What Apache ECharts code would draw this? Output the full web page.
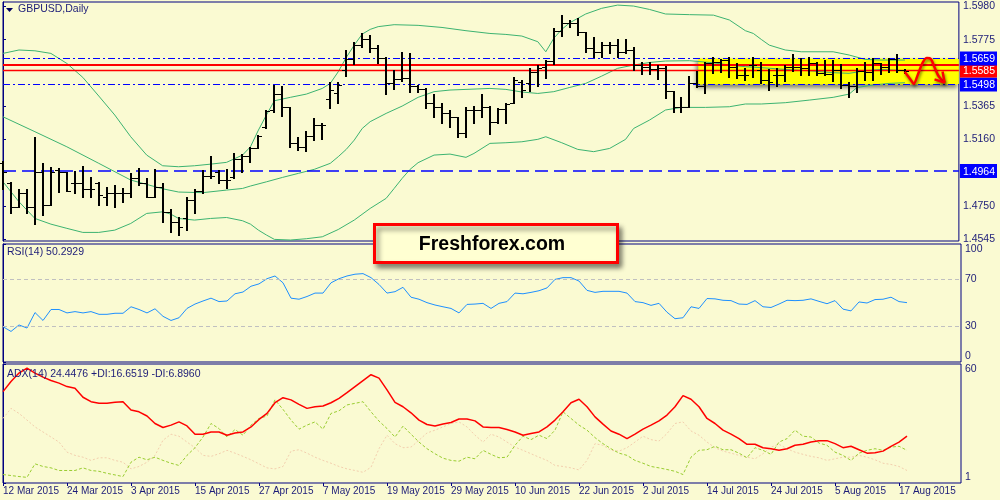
<!DOCTYPE html>
<html><head><meta charset="utf-8">
<script src="https://cdn.jsdelivr.net/npm/echarts@6/dist/echarts.min.js"></script>
<style>html,body{margin:0;padding:0;background:#FAFAD2;}#c{width:1000px;height:500px;}</style>
</head><body><div id="c"></div>
<script>
// ---- data ----
const tickLabels = ['12 Mar 2015','24 Mar 2015','3 Apr 2015','15 Apr 2015','27 Apr 2015','7 May 2015','19 May 2015','29 May 2015','10 Jun 2015','22 Jun 2015','2 Jul 2015','14 Jul 2015','24 Jul 2015','5 Aug 2015','17 Aug 2015'];
const open = [1.5012,1.4892,1.4744,1.4831,1.4744,1.4960,1.4755,1.4970,1.4960,1.4888,1.4888,1.4851,1.4892,1.4806,1.4826,1.4831,1.4831,1.4919,1.4888,1.4806,1.4864,1.4713,1.4652,1.4672,1.4785,1.4843,1.4935,1.4960,1.4909,1.4929,1.5036,1.5059,1.5104,1.5238,1.5341,1.5439,1.5357,1.5139,1.5114,1.5180,1.5246,1.5406,1.5443,1.5587,1.5653,1.5741,1.5776,1.5721,1.5659,1.5505,1.5530,1.5536,1.5489,1.5468,1.5382,1.5357,1.5324,1.5295,1.5201,1.5341,1.5341,1.5361,1.5269,1.5345,1.5382,1.5515,1.5505,1.5577,1.5608,1.5643,1.5830,1.5875,1.5875,1.5824,1.5721,1.5700,1.5741,1.5741,1.5700,1.5711,1.5618,1.5608,1.5591,1.5598,1.5460,1.5357,1.5361,1.5505,1.5489,1.5632,1.5639,1.5649,1.5608,1.5556,1.5618,1.5587,1.5526,1.5556,1.5556,1.5608,1.5604,1.5598,1.5632,1.5567,1.5563,1.5587,1.5495,1.5489,1.5583,1.5577,1.5628,1.5608,1.5653,1.5587];
const high = [1.5026,1.4898,1.4851,1.4851,1.5176,1.5012,1.4991,1.4981,1.4960,1.4964,1.4997,1.4929,1.4898,1.4868,1.4878,1.4857,1.4950,1.4981,1.4919,1.4975,1.4888,1.4728,1.4683,1.4802,1.4851,1.4970,1.5057,1.4970,1.4975,1.5077,1.5067,1.5114,1.5186,1.5341,1.5495,1.5489,1.5357,1.5172,1.5213,1.5289,1.5262,1.5515,1.5515,1.5711,1.5762,1.5813,1.5803,1.5741,1.5669,1.5587,1.5700,1.5690,1.5495,1.5474,1.5439,1.5386,1.5341,1.5299,1.5361,1.5365,1.5439,1.5365,1.5351,1.5386,1.5546,1.5526,1.5598,1.5618,1.5649,1.5844,1.5926,1.5896,1.5906,1.5824,1.5793,1.5762,1.5762,1.5776,1.5776,1.5727,1.5639,1.5639,1.5618,1.5612,1.5460,1.5419,1.5550,1.5583,1.5639,1.5665,1.5653,1.5665,1.5632,1.5598,1.5665,1.5639,1.5591,1.5598,1.5618,1.5686,1.5659,1.5665,1.5639,1.5649,1.5649,1.5624,1.5515,1.5598,1.5639,1.5659,1.5632,1.5659,1.5686,1.5591];
const low = [1.4851,1.4703,1.4740,1.4703,1.4637,1.4693,1.4755,1.4837,1.4843,1.4831,1.4806,1.4806,1.4755,1.4755,1.4744,1.4775,1.4806,1.4878,1.4806,1.4806,1.4652,1.4590,1.4570,1.4600,1.4703,1.4826,1.4919,1.4892,1.4857,1.4919,1.4960,1.5022,1.5104,1.5227,1.5330,1.5304,1.5114,1.5094,1.5090,1.5155,1.5160,1.5351,1.5386,1.5550,1.5624,1.5727,1.5700,1.5632,1.5439,1.5468,1.5519,1.5454,1.5454,1.5351,1.5299,1.5258,1.5234,1.5172,1.5176,1.5258,1.5299,1.5192,1.5258,1.5258,1.5382,1.5423,1.5460,1.5489,1.5536,1.5624,1.5797,1.5855,1.5803,1.5700,1.5669,1.5669,1.5690,1.5665,1.5690,1.5587,1.5563,1.5563,1.5530,1.5412,1.5330,1.5330,1.5361,1.5480,1.5447,1.5571,1.5577,1.5546,1.5536,1.5526,1.5542,1.5509,1.5464,1.5489,1.5521,1.5583,1.5556,1.5556,1.5556,1.5556,1.5521,1.5474,1.5419,1.5454,1.5526,1.5526,1.5563,1.5577,1.5577,1.5571];
const close = [1.4960,1.4744,1.4831,1.4744,1.4960,1.4755,1.4960,1.4960,1.4843,1.4888,1.4851,1.4851,1.4816,1.4826,1.4826,1.4831,1.4919,1.4888,1.4806,1.4864,1.4713,1.4652,1.4621,1.4785,1.4843,1.4935,1.4935,1.4909,1.4909,1.5036,1.5059,1.5104,1.5180,1.5336,1.5439,1.5357,1.5139,1.5114,1.5180,1.5246,1.5246,1.5464,1.5495,1.5653,1.5741,1.5776,1.5721,1.5659,1.5505,1.5530,1.5536,1.5489,1.5468,1.5382,1.5357,1.5324,1.5295,1.5201,1.5341,1.5341,1.5361,1.5269,1.5345,1.5378,1.5526,1.5464,1.5577,1.5598,1.5643,1.5830,1.5875,1.5875,1.5824,1.5721,1.5700,1.5741,1.5741,1.5700,1.5711,1.5618,1.5608,1.5591,1.5598,1.5460,1.5357,1.5357,1.5505,1.5489,1.5632,1.5639,1.5649,1.5608,1.5556,1.5556,1.5618,1.5526,1.5515,1.5556,1.5608,1.5604,1.5598,1.5632,1.5567,1.5563,1.5587,1.5495,1.5489,1.5583,1.5577,1.5628,1.5608,1.5653,1.5587,1.5581];
const bbUpper = [[0,1.5690],[2,1.5711],[4,1.5706],[6,1.5690],[8,1.5628],[10,1.5542],[12,1.5427],[14,1.5310],[16,1.5176],[18,1.5063],[20,1.4997],[22,1.4991],[24,1.4997],[26,1.5007],[28,1.5018],[30,1.5063],[31,1.5114],[32,1.5217],[33,1.5310],[34,1.5398],[36,1.5419],[38,1.5439],[40,1.5474],[41,1.5505],[42,1.5577],[43,1.5665],[44,1.5741],[45,1.5809],[46,1.5838],[47,1.5855],[49,1.5867],[52,1.5863],[55,1.5850],[58,1.5830],[61,1.5813],[63,1.5807],[65,1.5797],[67,1.5762],[68,1.5700],[69,1.5783],[70,1.5838],[71,1.5879],[73,1.5933],[75,1.5968],[77,1.5988],[79,1.5982],[81,1.5961],[83,1.5933],[86,1.5929],[89,1.5926],[91,1.5896],[93,1.5830],[94,1.5813],[95,1.5776],[96,1.5741],[98,1.5711],[100,1.5700],[104,1.5700],[106,1.5680],[108,1.5653],[110,1.5649],[113,1.5649]];
const bbMiddle = [[0,1.5299],[4,1.5207],[8,1.5114],[12,1.5012],[16,1.4909],[20,1.4855],[22,1.4835],[25,1.4831],[28,1.4847],[30,1.4857],[31,1.4872],[33,1.4898],[35,1.4925],[37,1.4950],[39,1.4975],[41,1.5012],[42,1.5053],[43,1.5098],[44,1.5155],[45,1.5227],[46,1.5269],[48,1.5320],[50,1.5365],[52,1.5419],[54,1.5454],[56,1.5464],[58,1.5468],[61,1.5474],[63,1.5468],[65,1.5452],[67,1.5443],[69,1.5454],[71,1.5480],[73,1.5505],[75,1.5550],[77,1.5598],[79,1.5618],[81,1.5634],[83,1.5643],[86,1.5645],[89,1.5632],[91,1.5618],[93,1.5608],[95,1.5602],[98,1.5591],[101,1.5583],[104,1.5571],[106,1.5567],[108,1.5583],[110,1.5591],[113,1.5583]];
const bbLower = [[0,1.4898],[2,1.4775],[4,1.4672],[6,1.4637],[8,1.4611],[10,1.4586],[12,1.4586],[14,1.4600],[16,1.4641],[18,1.4703],[20,1.4713],[21,1.4699],[22,1.4672],[24,1.4662],[26,1.4672],[28,1.4678],[30,1.4658],[31,1.4637],[32,1.4600],[33,1.4570],[34,1.4543],[36,1.4539],[38,1.4547],[40,1.4559],[42,1.4604],[44,1.4662],[46,1.4734],[48,1.4796],[49,1.4857],[50,1.4919],[51,1.4975],[52,1.5016],[54,1.5063],[56,1.5069],[58,1.5049],[59,1.5073],[61,1.5135],[63,1.5139],[65,1.5145],[67,1.5160],[68,1.5176],[70,1.5139],[72,1.5098],[74,1.5084],[76,1.5104],[78,1.5160],[79,1.5227],[81,1.5279],[83,1.5341],[85,1.5357],[88,1.5357],[91,1.5361],[93,1.5378],[95,1.5378],[98,1.5386],[101,1.5402],[104,1.5419],[106,1.5439],[107,1.5480],[109,1.5495],[111,1.5505],[113,1.5509]];
const rsi = [29.9,25.9,31.4,28.8,41.9,35.2,44.5,44.5,41.6,42.7,41.6,42.7,40.4,40.4,41.3,41.3,46.8,44.5,41.6,45.1,38.7,35.2,37.5,45.4,49.1,51.7,54.1,51.2,51.7,57.8,59.3,64.2,66.2,70.6,72.9,67.1,54.1,53.2,55.5,58.4,58.4,67.1,70.6,72.9,74.4,74.9,71.5,65.7,58.4,59.6,63.3,54.9,53.2,50.3,48.3,46.8,45.4,41.6,48.8,49.1,49.7,45.4,49.7,51.2,58.4,57.8,59.0,60.4,62.8,70.0,71.5,71.5,68.6,60.7,59.0,59.9,59.9,59.9,58.4,51.2,50.3,48.0,49.7,42.2,36.7,37.5,46.8,45.4,53.8,53.5,52.3,52.0,49.1,48.8,52.0,46.8,46.2,49.1,52.3,52.0,52.3,53.5,51.4,49.4,52.0,44.8,43.3,50.9,50.0,52.9,53.2,54.9,51.2,50.3];
const adx = [46.3,51.3,55.5,58.0,55.5,53.5,51.8,50.5,48.8,48.0,43.5,41.3,40.5,40.5,41.0,41.3,37.2,36.3,34.2,30.5,28.5,29.7,31.3,29.3,25.2,25.2,26.3,26.3,24.7,25.8,26.3,28.8,32.5,35.5,40.8,43.3,42.2,40.0,38.0,38.8,39.2,40.8,43.0,45.8,48.8,51.8,54.7,53.0,47.2,41.0,38.8,35.8,32.2,30.0,29.3,30.2,31.0,32.7,32.7,31.8,28.8,28.5,28.5,27.5,26.3,24.7,25.5,26.3,28.8,32.2,36.3,40.8,42.5,38.8,33.8,30.2,26.8,25.2,23.0,25.2,27.7,29.7,31.8,34.7,38.8,44.3,42.5,38.8,33.0,30.5,27.2,25.2,23.0,20.2,20.2,18.5,18.0,17.2,18.0,19.7,20.2,21.3,22.0,22.0,20.5,18.5,19.2,17.5,15.8,16.0,16.8,19.2,21.3,24.2];
const plusDI = [5.2,4.7,4.2,3.8,10.5,9.2,8.5,7.2,7.2,7.2,8.5,7.2,6.8,5.8,5.0,4.2,11.3,13.8,12.5,13.8,12.2,10.8,9.7,14.7,18.5,23.8,30.5,28.0,23.8,27.5,24.7,29.7,33.0,34.2,42.2,37.5,32.2,27.7,29.7,31.3,27.7,35.5,36.8,39.7,40.5,41.3,36.3,31.7,28.0,23.8,29.2,25.2,21.3,18.0,15.5,13.3,12.2,11.8,13.8,13.0,17.2,15.2,13.5,13.8,19.7,24.2,22.5,24.7,23.0,27.2,36.3,33.0,29.7,27.2,23.5,20.5,18.0,15.8,14.7,12.2,10.8,9.2,8.5,7.7,6.8,5.2,13.8,17.2,17.5,19.2,17.5,17.5,15.8,13.5,18.5,17.2,15.2,21.3,23.0,27.2,24.2,23.8,20.8,19.7,16.3,14.7,12.2,15.8,17.2,18.0,17.2,18.8,19.2,17.2];
const minusDI = [33.0,38.0,35.5,32.2,28.8,26.3,23.8,21.3,16.3,14.7,13.8,12.2,13.5,13.5,12.2,11.3,8.0,9.2,11.3,14.7,22.2,25.2,24.2,21.3,18.5,14.7,14.2,15.5,17.2,15.8,14.2,12.5,10.5,8.5,8.0,9.2,16.8,17.5,15.8,13.8,12.2,10.8,9.2,8.0,7.2,6.3,8.8,18.0,24.7,20.5,18.5,18.8,22.2,25.8,27.2,28.8,30.5,31.3,28.8,24.7,21.3,25.2,23.8,21.3,18.8,17.2,15.5,13.8,12.2,9.7,9.2,8.5,7.5,12.2,20.5,19.7,17.2,16.8,18.5,21.3,24.2,22.5,21.8,25.5,30.5,31.3,26.8,24.7,21.3,18.5,16.8,15.8,14.7,13.8,13.0,15.5,18.8,20.2,18.0,16.3,15.2,14.2,13.5,12.2,13.0,13.8,13.8,14.7,13.8,12.5,10.8,10.2,9.2,7.2];
const priceTicks = [1.4545,1.4750,1.5160,1.5365,1.5775,1.5980];
const resistLevel = 1.5659, supportLevel = 1.5498, pivotLevel = 1.5585, redLevel = 1.5621, lowLevel = 1.4964;
const zoneStart = 87.1;
const arrowPath = [[112.96,1.5577],[113.75,1.5525],[114.09,1.5501],[114.63,1.5562],[115.25,1.5636],[115.75,1.5661],[116.25,1.5655],[116.63,1.5612],[117.13,1.5556],[117.5,1.5532],[117.96,1.5510]];
const arrowHead = [[116.7,1.5530],[117.96,1.5510],[117.7,1.5578]];
const rsiLevels = [70,30];
const titleText = 'GBPUSD,Daily';
const rsiText = 'RSI(14) 50.2929';
const adxText = 'ADX(14) 24.4476 +DI:16.6519 -DI:6.8960';
const brandText = 'Freshforex.com';

// ---- chart ----
const NAVY = '#000080', TXT = '#1c1c78', BG = '#FAFAD2', FONT = 'Liberation Sans';
const XMAX = 119.75;
const boxedBlue = [resistLevel, supportLevel, lowLevel];
const boxedRed = [pivotLevel];
const allPriceTicks = priceTicks.concat(boxedBlue, boxedRed).sort((a,b)=>a-b);
const near = (a,b)=>Math.abs(a-b)<1e-6;

const ohlc = open.map((o,i)=>[i,o,close[i],low[i],high[i]]);
const idxPairs = arr => arr.map((v,i)=>[i,v]);

function renderBar(params, api){
  const i = api.value(0);
  const pO = api.coord([i, api.value(1)]);
  const pC = api.coord([i, api.value(2)]);
  const pL = api.coord([i, api.value(3)]);
  const pH = api.coord([i, api.value(4)]);
  const xc = Math.round(pH[0]);
  const r = v => Math.round(v) + 0.5;
  return {type:'group', children:[
    {type:'line', shape:{x1:xc,y1:Math.round(pH[1]),x2:xc,y2:Math.round(pL[1])+1}, style:{stroke:'#000', lineWidth:2}},
    {type:'line', shape:{x1:xc-4,y1:r(pO[1]),x2:xc,y2:r(pO[1])}, style:{stroke:'#000', lineWidth:1}},
    {type:'line', shape:{x1:xc,y1:r(pC[1]),x2:xc+4,y2:r(pC[1])}, style:{stroke:'#000', lineWidth:1}}
  ]};
}

const grids = [
  {left:3, right:39, top:2, height:239},
  {left:3, right:39, top:244, height:118},
  {left:3, right:39, top:364, height:119}
].map(g=>Object.assign(g,{show:true, borderColor:NAVY, borderWidth:1, backgroundColor:BG, containLabel:false}));

const xAxes = [0,1,2].map(gi=>({
  gridIndex:gi, type:'value', min:0, max:XMAX, show: gi===2,
  splitLine:{show:false}, axisLine:{show:false},
  axisTick:{show:true, length:3, customValues: tickLabels.map((_,k)=>k*8), lineStyle:{color:NAVY}},
  axisLabel:{show:true, customValues: tickLabels.map((_,k)=>k*8), align:'left', margin:3,
    color:TXT, fontFamily:FONT, fontSize:10,
    formatter: v => tickLabels[Math.round(v/8)] || ''}
}));

const yAxes = [
  {gridIndex:0, type:'value', position:'right', min:1.4533, max:1.6007,
   splitLine:{show:false}, axisLine:{show:true, lineStyle:{color:NAVY}},
   axisTick:{show:true, length:3, customValues: priceTicks, lineStyle:{color:NAVY}},
   axisLabel:{customValues: allPriceTicks, margin:1, fontFamily:FONT, fontSize:10, color:TXT,
     formatter: v => {
       const s = v.toFixed(4);
       if (boxedBlue.some(b=>near(b,v))) return '{b|'+s+'}';
       if (boxedRed.some(b=>near(b,v))) return '{r|'+s+'}';
       return '{n|'+s+'}';
     },
     rich:{
       b:{backgroundColor:'#0000FF', color:'#fff', padding:[2,2,1,3], fontFamily:FONT, fontSize:10.5},
       r:{backgroundColor:'#FF0000', color:'#fff', padding:[2,2,1,3], fontFamily:FONT, fontSize:10.5},
       n:{color:TXT, padding:[0,2,0,3], fontFamily:FONT, fontSize:10.5}
     }}},
  {gridIndex:1, type:'value', position:'right', min:0, max:100,
   splitLine:{show:false}, axisLine:{show:true, lineStyle:{color:NAVY}},
   axisTick:{show:true, length:3, customValues:[0,30,70,100], lineStyle:{color:NAVY}},
   axisLabel:{customValues:[0,30,70,100], margin:4, fontFamily:FONT, fontSize:10.5, color:TXT,
     verticalAlignMaxLabel:'top', verticalAlignMinLabel:'bottom'}},
  {gridIndex:2, type:'value', position:'right', min:1, max:60,
   splitLine:{show:false}, axisLine:{show:true, lineStyle:{color:NAVY}},
   axisTick:{show:true, length:3, customValues:[1,60], lineStyle:{color:NAVY}},
   axisLabel:{customValues:[1,60], margin:4, fontFamily:FONT, fontSize:10.5, color:TXT,
     verticalAlignMaxLabel:'top', verticalAlignMinLabel:'bottom'}}
];

const lineBase = {type:'line', showSymbol:false, symbol:'none', silent:true, animation:false};

const series = [
  Object.assign({}, lineBase, {name:'zone', xAxisIndex:0, yAxisIndex:0, data:[], z:1,
    markArea:{silent:true, precision:5, itemStyle:{color:'#FFFF00', shadowBlur:4, shadowColor:'rgba(0,0,0,0.45)', shadowOffsetX:-2, shadowOffsetY:3},
      data:[[{xAxis:zoneStart, yAxis:resistLevel},{xAxis:XMAX, yAxis:supportLevel}]]}}),
  Object.assign({}, lineBase, {name:'levels', xAxisIndex:0, yAxisIndex:0, data:[], z:2,
    markLine:{silent:true, precision:5, symbol:['none','none'], label:{show:false}, animation:false,
      data:[
        {yAxis:resistLevel, lineStyle:{color:'#0000FF', width:1, type:[7,3,2,3]}},
        {yAxis:supportLevel, lineStyle:{color:'#0000FF', width:1, type:[7,3,2,3]}},
        {yAxis:redLevel, lineStyle:{color:'#FF0000', width:2, type:'solid'}},
        {yAxis:pivotLevel, lineStyle:{color:'#FF0000', width:1.3, type:'solid'}},
        {yAxis:lowLevel, lineStyle:{color:'#0000FF', width:1.6, type:[13,6]}}
      ]}}),
  Object.assign({}, lineBase, {name:'BB up', xAxisIndex:0, yAxisIndex:0, data:bbUpper, z:3, lineStyle:{color:'#3CB371', width:1}}),
  Object.assign({}, lineBase, {name:'BB mid', xAxisIndex:0, yAxisIndex:0, data:bbMiddle, z:3, lineStyle:{color:'#3CB371', width:1}}),
  Object.assign({}, lineBase, {name:'BB low', xAxisIndex:0, yAxisIndex:0, data:bbLower, z:3, lineStyle:{color:'#3CB371', width:1}}),
  {type:'custom', name:'GBPUSD', xAxisIndex:0, yAxisIndex:0, data:ohlc, renderItem:renderBar, z:5,
   encode:{x:0, y:[1,2,3,4]}, silent:true, animation:false},
  Object.assign({}, lineBase, {name:'arrow', xAxisIndex:0, yAxisIndex:0, data:arrowPath, z:6, smooth:0.3,
    lineStyle:{color:'#FF0000', width:2.5, shadowBlur:3, shadowColor:'rgba(0,0,0,0.5)', shadowOffsetX:1, shadowOffsetY:2}}),
  Object.assign({}, lineBase, {name:'arrowhead', xAxisIndex:0, yAxisIndex:0, data:arrowHead, z:6,
    lineStyle:{color:'#FF0000', width:2.5, shadowBlur:3, shadowColor:'rgba(0,0,0,0.5)', shadowOffsetX:1, shadowOffsetY:2}}),
  Object.assign({}, lineBase, {name:'RSI', xAxisIndex:1, yAxisIndex:1, data:idxPairs(rsi), z:3,
    lineStyle:{color:'#1E90FF', width:1},
    markLine:{silent:true, precision:5, symbol:['none','none'], label:{show:false}, animation:false,
      lineStyle:{color:'#C0C0C0', width:1, type:[4,3]},
      data: rsiLevels.map(v=>({yAxis:v}))}}),
  Object.assign({}, lineBase, {name:'-DI', xAxisIndex:2, yAxisIndex:2, data:idxPairs(minusDI), z:2,
    lineStyle:{color:'#F3CFAE', width:1, type:[2,2]}}),
  Object.assign({}, lineBase, {name:'+DI', xAxisIndex:2, yAxisIndex:2, data:idxPairs(plusDI), z:3,
    lineStyle:{color:'#9ACD32', width:1, type:[3,2]}}),
  Object.assign({}, lineBase, {name:'ADX', xAxisIndex:2, yAxisIndex:2, data:idxPairs(adx), z:4,
    lineStyle:{color:'#FF0000', width:1.5}})
];

const graphic = [
  {type:'polygon', shape:{points:[[6,8],[13,8],[9.5,12]]}, style:{fill:'#000060'}, z:100},
  {type:'text', left:18, top:4, style:{text:titleText, fill:TXT, font:'10.5px "Liberation Sans"'}, z:100},
  {type:'text', left:7, top:247, style:{text:rsiText, fill:TXT, font:'10.5px "Liberation Sans"'}, z:100},
  {type:'text', left:7, top:369, style:{text:adxText, fill:TXT, font:'10.5px "Liberation Sans"'}, z:100},
  {type:'group', left:373, top:223, z:200, children:[
    {type:'rect', shape:{x:0, y:0, width:243, height:38},
     style:{fill:'#FFFFD2', stroke:'#FF0000', lineWidth:3, shadowBlur:5, shadowOffsetX:3, shadowOffsetY:4, shadowColor:'rgba(0,0,0,0.45)'}},
    {type:'text', x:117.5, y:20, style:{text:brandText, fill:'#000', font:'bold 19.5px "Liberation Sans"', textAlign:'center', textVerticalAlign:'middle'}}
  ]}
];

const chart = echarts.init(document.getElementById('c'), null, {renderer:'canvas'});
chart.setOption({
  backgroundColor:BG, animation:false,
  grid:grids, xAxis:xAxes, yAxis:yAxes, series:series, graphic:graphic,
  tooltip:{show:false}
});
</script></body></html>
